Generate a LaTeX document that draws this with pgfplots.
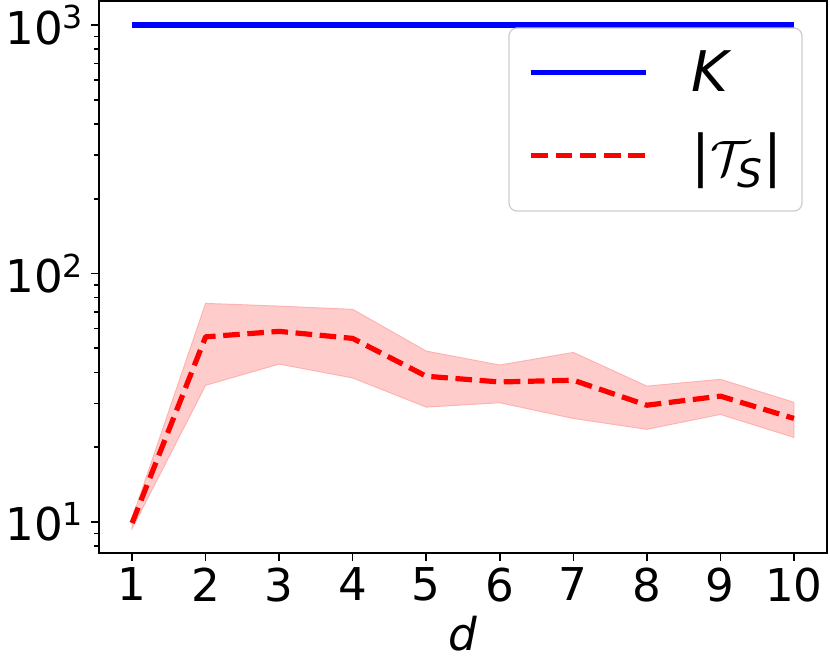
\documentclass[border=0pt]{standalone}
\usepackage{fontspec}
\setmainfont{DejaVu Sans}
\usepackage{pgfplots}
\pgfplotsset{compat=1.18}
\begin{document}
\begin{tikzpicture}
\begin{axis}[name=ax,
  scale only axis, width=364pt, height=276pt,
  ymode=log, xmin=0.55, xmax=10.45, ymin=7.5, ymax=1250,
  xtick={1,2,3,4,5,6,7,8,9,10},
  xticklabels={1,2,3,4,5,6,7,8,9,10},
  ytick={10,100,1000},
  yticklabels={10\textsuperscript{1},10\textsuperscript{2},10\textsuperscript{3}},
  minor ytick={8,9,20,30,40,50,60,70,80,90,200,300,400,500,600,700,800,900},
  tick align=outside, tick pos=left,
  major tick length=4pt, minor tick length=2.3pt,
  every tick/.style={black, line width=0.8pt},
  axis line style={line width=0.85pt},
  /pgf/number format/assume math mode=true,
  ticklabel style={font=\fontsize{22.6}{27}\selectfont},
  xlabel={\itshape d},
  xlabel style={font=\fontsize{22.6}{27}\selectfont},
  legend style={at={(0.9657,0.951)}, anchor=north east,
    draw=none, fill=white,
    font=\fontsize{28}{33}\selectfont,
    inner xsep=9.5pt, inner ysep=11pt, row sep=19pt,
    nodes={inner sep=0pt},
    /tikz/every odd column/.style={column sep=21.5pt}},
  legend cell align=left,
  legend image code/.code={\draw[#1, line cap=butt] (0pt,0pt) -- (57.5pt,0pt);},
]
\addplot[fill=red!20, draw=red!30, line width=0.5pt, forget plot] coordinates {
 (1,10.3) (2,75.8) (3,73.9) (4,71.7) (5,48.7) (6,42.8) (7,48.1) (8,35.2) (9,37.5) (10,30.3)
 (10,21.9) (9,27.1) (8,23.6) (7,26.1) (6,30.2) (5,29.0) (4,38.0) (3,43.2) (2,35.5) (1,9.4)
} -- cycle;
\addplot[blue, line width=2.6pt] coordinates {
 (1,1000) (2,1000) (3,1000) (4,1000) (5,1000) (6,1000) (7,1000) (8,1000) (9,1000) (10,1000)};
\addlegendentry{\textit{K}}
\addplot[red, line width=2.6pt, line join=round, dash pattern=on 8.3pt off 3.8pt] coordinates {
 (1,9.9) (2,55.6) (3,58.5) (4,54.8) (5,38.6) (6,36.6) (7,37.2) (8,29.5) (9,32.1) (10,26.1)};
\addlegendentry{|$\mathcal{T}_{\mbox{\fontsize{19.6}{20}\selectfont\itshape S}}$|}
\end{axis}
\draw[black!20, line width=0.6pt, rounded corners=4pt] ([shift={(-159pt,-13.5pt)}]ax.north east) rectangle ([shift={(-12.5pt,-105pt)}]ax.north east);
\pgfresetboundingbox
\path[use as bounding box] ([shift={(-49.5pt,-55.5pt)}]ax.south west) rectangle ([shift={(1.5pt,0.5pt)}]ax.north east);
\end{tikzpicture}
\end{document}
